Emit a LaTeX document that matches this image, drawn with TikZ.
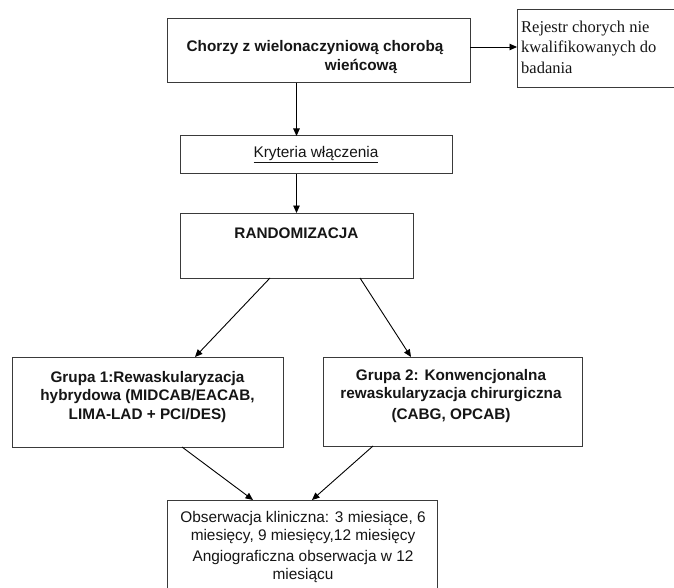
\documentclass[tikz,border=0pt]{standalone}
\usepackage{fontspec}
\setmainfont{Liberation Sans}
\newfontfamily\serifx{Liberation Serif}
\usetikzlibrary{arrows.meta,calc}
\definecolor{edge}{HTML}{3A3A3A}
\definecolor{ink}{HTML}{151515}
\begin{document}
\begin{tikzpicture}[x=1pt,y=-1pt,
  box/.style={draw=edge, line width=1pt, inner sep=0pt, outer sep=0pt, fill=none},
  txtb/.style={text=ink, align=center, inner sep=0pt, font=\fontsize{15.3}{18.5}\selectfont\bfseries},
  txtr/.style={text=ink, align=center, inner sep=0pt, font=\fontsize{15.4}{18}\selectfont},
  arr/.style={draw=black, line width=0.9pt, -{Triangle[length=7.5pt,width=6.5pt]}},
  lin/.style={draw=black, line width=0.9pt}]
\useasboundingbox (0,0) rectangle (674,588);
\clip (0,0) rectangle (674,588);
% boxes
\node[box, minimum width=303pt, minimum height=64pt] (b1) at (318.5,51) {};
\node[box, minimum width=170pt, minimum height=78pt] (rej) at (602,49) {};
\node[box, minimum width=272pt, minimum height=38pt] (kr) at (316,155) {};
\node[box, minimum width=233pt, minimum height=65pt] (ran) at (296.5,245.5) {};
\node[box, minimum width=271pt, minimum height=90pt] (g1) at (147.5,402) {};
\node[box, minimum width=259pt, minimum height=89pt] (g2) at (452.5,401.5) {};
\node[box, minimum width=270pt, minimum height=110pt] (obs) at (302,555) {};
% texts
\node[txtb] (t1) at (315,57) {Chorzy z wielonaczyniową chorobą\\\hspace*{92pt}wieńcową};
\node[anchor=west, align=left, inner sep=0pt, text=ink, font=\serifx\fontsize{16.5}{20.5}\selectfont] (trej) at (521,47) {Rejestr chorych nie\\kwalifikowanych do\\badania};
\node[txtr] (tkr) at (316,155) {\underline{Kryteria włączenia}};
\node[txtb] (tran) at (296.5,233) {RANDOMIZACJA};
\node[txtb] (tg1) at (147.5,397) {Grupa 1:Rewaskularyzacja\\hybrydowa (MIDCAB/EACAB,\\LIMA-LAD + PCI/DES)};
\node[txtb] (tg2) at (451,396) {Grupa 2: Konwencjonalna\\rewaskularyzacja chirurgiczna\\[2pt](CABG, OPCAB)};
\node[txtr] (tobs) at (303,547) {Obserwacja kliniczna: 3 miesiące, 6\\miesięcy, 9 miesięcy,12 miesięcy\\[3pt]Angiograficzna obserwacja w 12\\miesiącu};
% connectors
\draw[arr] ([yshift=4pt]b1.east) coordinate (p1) -- (p1 -| rej.west);
\draw[arr] (b1.south -| ran.north) -- (kr.north -| ran.north);
\draw[arr] (kr.south -| ran.north) -- (ran.north);
\draw[arr] ([xshift=-26.5pt]ran.south) -- ([xshift=47.5pt]g1.north);
\draw[arr] ([xshift=63.5pt]ran.south) -- ([xshift=-41.5pt]g2.north);
\draw[arr] ([xshift=34.5pt]g1.south) -- ([xshift=-49pt]obs.north);
\draw[arr] ([xshift=-79.5pt]g2.south) -- ([xshift=10pt]obs.north);
\end{tikzpicture}
\end{document}
